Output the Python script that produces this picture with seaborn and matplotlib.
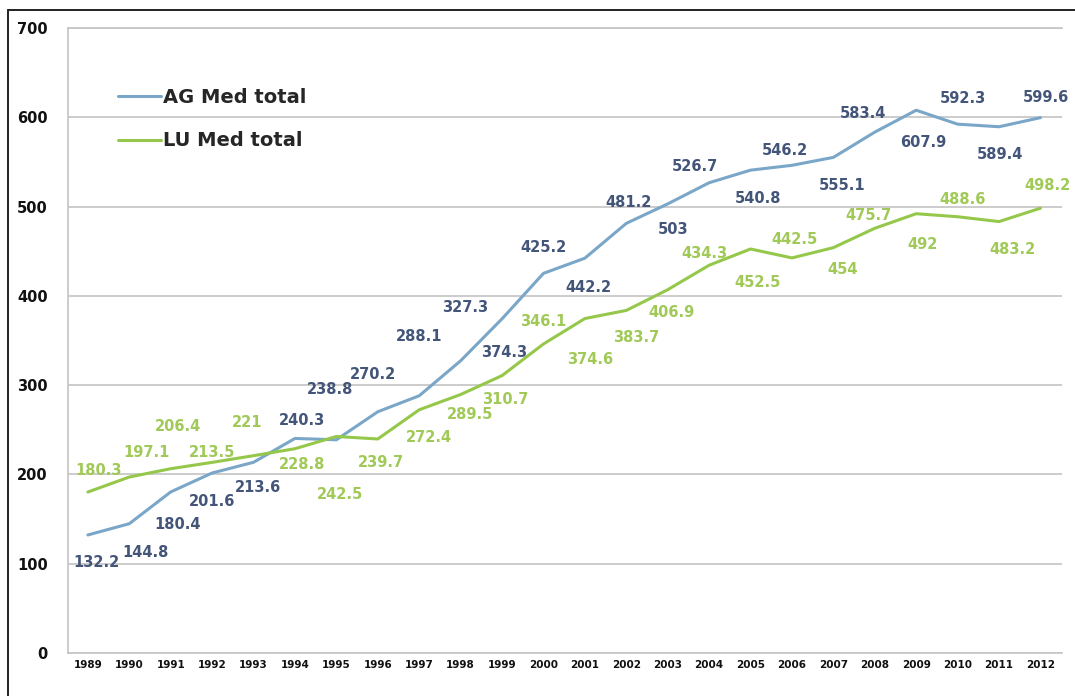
import numpy as np
import pandas as pd
import matplotlib
matplotlib.use("Agg")
import matplotlib.pyplot as plt
import matplotlib.ticker as mtick
from matplotlib.lines import Line2D
import seaborn as sns

# data
years = list(range(1989, 2013))
ag_total = [132.2, 144.8, 180.4, 201.6, 213.6, 240.3, 238.8, 270.2, 288.1, 327.3,
            374.3, 425.2, 442.2, 481.2, 503, 526.7, 540.8, 546.2, 555.1, 583.4,
            607.9, 592.3, 589.4, 599.6]
lu_total = [180.3, 197.1, 206.4, 213.5, 221, 228.8, 242.5, 239.7, 272.4, 289.5,
            310.7, 346.1, 374.6, 383.7, 406.9, 434.3, 452.5, 442.5, 454, 475.7,
            492, 488.6, 483.2, 498.2]
series_names = ["AG Med total", "LU Med total"]
y_ticks = [0, 100, 200, 300, 400, 500, 600, 700]

# placering af datalabels (pixel-forskydning, dx, dy nedad positiv)
ag_dx = [9, 16, 7, 0, 4, 7, -6, -5, 0, 4, 2, 0, 4, 2, 5, -14, 8, -7, 9, -12, 7, 5, 1, 5]
ag_dy = [28, 29, 33, 29, 25, -18, -50, -37, -59, -53, 34, -26, 29, -21, 26, -16, 28, -15, 28, -19, 32, -26, 28, -20]
lu_dx = [11, 17, 7, 0, -6, 7, 4, 3, 10, 9, 3, 0, 5, 10, 4, -5, 7, 3, 9, -6, 6, 5, 13, 7]
lu_dy = [-22, -25, -42, -10, -33, 16, 58, 24, 28, 20, 24, -22, 41, 27, 23, -12, 34, -18, 22, -13, 31, -17, 28, -23]

blue_line = "#7aa6c8"
green_line = "#95c84a"
blue_text = "#44557a"
green_text = "#a0c957"
grid_col = "#c4c4c4"

df = pd.DataFrame({
    "idx": list(range(len(years))) * 2,
    "value": ag_total + lu_total,
    "serie": [series_names[0]] * len(years) + [series_names[1]] * len(years),
})

sns.set_theme(style="white")
plt.rcParams["font.family"] = ["DejaVu Sans"]

W, H = 1075, 696
fig = plt.figure(figsize=(W / 100, H / 100), dpi=100)
fig.patch.set_facecolor("white")

# plotområde i pixels
left, right, top, bottom = 68, 1062, 28, 653
ax = fig.add_axes([left / W, 1 - bottom / H, (right - left) / W, (bottom - top) / H])

sns.lineplot(data=df, x="idx", y="value", hue="serie",
             palette={series_names[0]: blue_line, series_names[1]: green_line},
             linewidth=2.2, ax=ax, legend=False)

ax.set_xlim(-0.48, len(years) - 1 + 0.52)
ax.set_ylim(0, 700)
ax.set_yticks(y_ticks)
ax.set_yticklabels([str(t) for t in y_ticks], fontsize=10.5, fontweight="bold", color="#111111")
ax.set_xticks(range(len(years)))
ax.set_xticklabels([str(y) for y in years], fontsize=7.5, fontweight="bold", color="#111111")
ax.xaxis.set_minor_locator(mtick.FixedLocator(np.arange(0.5, len(years) - 1, 1)))
ax.tick_params(axis="x", which="major", length=0, pad=5)
ax.tick_params(axis="x", which="minor", length=3, width=0.8, color=grid_col, direction="out")
ax.tick_params(axis="y", which="major", length=4.5, width=1.1, color=grid_col, direction="out", pad=10)
ax.set_xlabel("")
ax.set_ylabel("")

ax.grid(axis="y", color=grid_col, linewidth=1.2)
ax.grid(axis="x", visible=False)
ax.set_axisbelow(True)
for side in ["left", "bottom", "top"]:
    ax.spines[side].set_visible(True)
    ax.spines[side].set_color(grid_col)
    ax.spines[side].set_linewidth(1.2)
ax.spines["right"].set_visible(False)

# datalabels
for i in range(len(years)):
    ax.annotate(f"{ag_total[i]:g}", (i, ag_total[i]), xytext=(ag_dx[i], -ag_dy[i]),
                textcoords="offset pixels", ha="center", va="center",
                fontsize=10.5, fontweight="bold", color=blue_text)
    ax.annotate(f"{lu_total[i]:g}", (i, lu_total[i]), xytext=(lu_dx[i], -lu_dy[i]),
                textcoords="offset pixels", ha="center", va="center",
                fontsize=10.5, fontweight="bold", color=green_text)

# legend
handles = [Line2D([], [], color=blue_line, linewidth=2.2),
           Line2D([], [], color=green_line, linewidth=2.2)]
fig.legend(handles, series_names, loc="upper left",
           bbox_to_anchor=(118 / W, 1 - 88 / H), frameon=False,
           prop={"size": 14, "weight": "bold"}, handlelength=2.2,
           handletextpad=0.1, labelspacing=1.25, borderpad=0, borderaxespad=0)

# ramme (kun top og venstre synlig)
fig.add_artist(Line2D([8 / W, 1.0], [1 - 10 / H, 1 - 10 / H], color="#222222", linewidth=1.4,
                      transform=fig.transFigure))
fig.add_artist(Line2D([8 / W, 8 / W], [0.0, 1 - 10 / H], color="#222222", linewidth=1.4,
                      transform=fig.transFigure))

fig.savefig("out.png", dpi=100)
